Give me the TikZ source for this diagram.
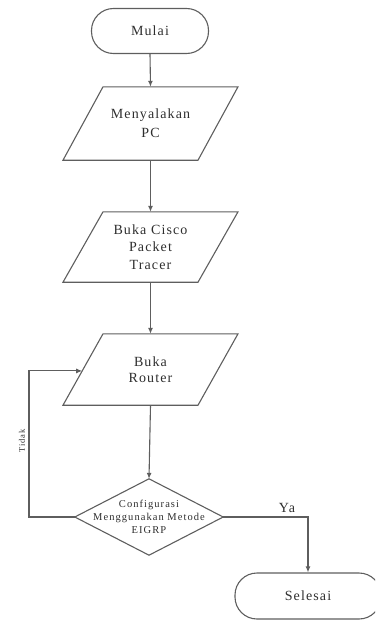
\documentclass[tikz,border=0pt]{standalone}
\usepackage{fontspec}
\setmainfont{Liberation Serif}
\newfontfamily\spaced[LetterSpace=8]{Liberation Serif}
\newfontfamily\spacedd[LetterSpace=10]{Liberation Serif}
\usetikzlibrary{arrows.meta,calc}
\definecolor{linec}{HTML}{5E5E5E}
\definecolor{textc}{HTML}{2E2E2E}
\tikzset{
  line/.style={draw=linec, line width=1.1pt},
  arr/.style={line, -{Latex[length=6pt,width=5pt]}},
  big/.style={font=\spaced\fontsize{14}{17.5}\selectfont, text=textc, align=center, inner sep=0pt},
  term/.style={big, draw=linec, line width=1.1pt, rectangle, rounded corners=22pt, minimum height=45pt},
  box/.style={big, rectangle, minimum width=100pt},
}
\begin{document}
\begin{tikzpicture}[x=1pt,y=-1pt]
\useasboundingbox (0,0) rectangle (375,621);
\clip (0,0) rectangle (375,621);
% terminators
\node[term, minimum width=117pt] (mulai) at (150,31) {Mulai};
\node[term, minimum width=146pt, minimum height=46pt] (selesai) at (308,596) {Selesai};
% parallelograms (text nodes + outlines)
\node[box, minimum height=73pt, font=\spaced\fontsize{14}{19}\selectfont] (p1) at (150.5,123.5) {Menyalakan\\PC};
\node[box, minimum height=70pt] (p2) at (150.5,247) {Buka Cisco\\Packet\\Tracer};
\node[box, minimum height=71pt, font=\spaced\fontsize{14}{16.5}\selectfont] (p3) at (150.5,369.5) {Buka\\Router};
\foreach \p in {p1,p2,p3}{
  \draw[line] ($(\p.north)+(-47.5,0)$) -- ($(\p.north)+(87.5,0)$) -- ($(\p.south)+(47.5,0)$) -- ($(\p.south)+(-87.5,0)$) -- cycle;
}
% decision
\node[rectangle, inner sep=0pt, minimum width=148pt, minimum height=76pt, align=center, text=textc,
      font=\spacedd\fontsize{10.5}{13}\selectfont] (d) at (149,517) {Configurasi\\Menggunakan Metode\\EIGRP};
\draw[line] (d.north) -- (d.east) -- (d.south) -- (d.west) -- cycle;
% connectors
\draw[arr] (mulai.south) -- (p1.north);
\draw[arr] (p1.south) -- (p2.north);
\draw[arr] (p2.south) -- (p3.north);
\draw[arr] (p3.south) -- (d.north);
\coordinate (p3tl) at ($(p3.north)+(-47.5,0)$);
\coordinate (p3bl) at ($(p3.south)+(-87.5,0)$);
\coordinate (p3in) at ($(p3tl)!0.52!(p3bl)$);
\coordinate (lb) at (29,517);
\draw[arr] (d.west) -- (lb) |- (p3in);
\draw[arr] (d.east) -| (selesai.north);
% labels
\node[rotate=90, inner sep=0pt, text=textc, font=\spacedd\fontsize{8.5}{9}\selectfont] (tidak) at (22,441) {Tidak};
\node[big, anchor=base] (ya) at (287,512) {Ya};
\end{tikzpicture}
\end{document}
